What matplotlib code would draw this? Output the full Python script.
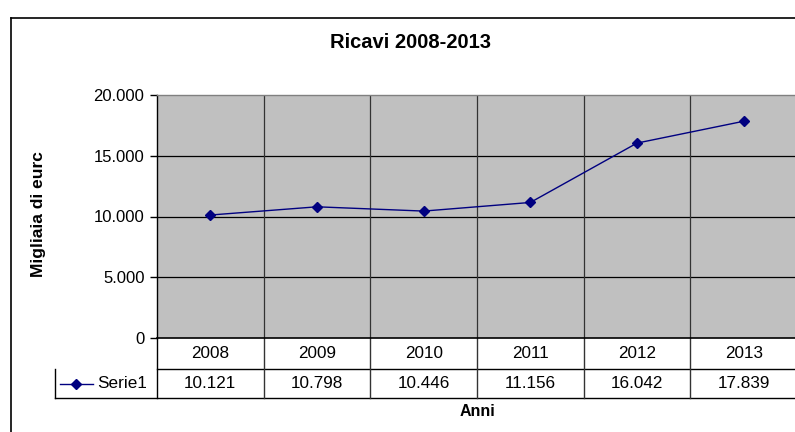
import matplotlib
matplotlib.use("Agg")
import matplotlib.pyplot as plt
from matplotlib.lines import Line2D
import matplotlib.transforms as mtransforms

plt.rcParams['font.family'] = ['Liberation Sans', 'DejaVu Sans']

years = ['2008', '2009', '2010', '2011', '2012', '2013']
values = [10121, 10798, 10446, 11156, 16042, 17839]
value_labels = ['10.121', '10.798', '10.446', '11.156', '16.042', '17.839']
series_name = 'Serie1'
yticks = [0, 5000, 10000, 15000, 20000]
ytick_labels = ['0', '5.000', '10.000', '15.000', '20.000']

W, H = 795, 432
fig = plt.figure(figsize=(W / 100, H / 100), dpi=100)
fig.patch.set_facecolor('white')

# outer chart border (left and top visible)
fig.add_artist(Line2D([11 / W, 11 / W], [-0.1, 1 - 18 / H], transform=fig.transFigure, color='black', lw=1.2))
fig.add_artist(Line2D([11 / W, 1.1], [1 - 18 / H, 1 - 18 / H], transform=fig.transFigure, color='black', lw=1.2))

left, right, top, bottom = 157, 797, 95, 338
ax = fig.add_axes([left / W, 1 - bottom / H, (right - left) / W, (bottom - top) / H])
ax.set_facecolor('#C0C0C0')
ax.set_xlim(-0.5, 5.5)
ax.set_ylim(0, 20000)

x = list(range(len(years)))
ax.plot(x, values, color='#000080', lw=1.0, marker='D', markersize=5, zorder=3)

ax.set_yticks(yticks)
ax.set_yticklabels(ytick_labels, fontsize=12)
ax.tick_params(axis='y', direction='out', length=5, width=1, color='black', pad=4)
ax.set_xticks([])
for yt in yticks[1:-1]:
    ax.axhline(yt, color='black', lw=0.9, zorder=1)
for i in range(1, len(years)):
    ax.axvline(i - 0.5, color='#333333', lw=0.9, zorder=1)
for s in ['top', 'right']:
    ax.spines[s].set_color('#808080')
    ax.spines[s].set_linewidth(1.0)
ax.spines['left'].set_color('black')
ax.spines['bottom'].set_color('black')
ax.spines['left'].set_linewidth(1.0)
ax.spines['bottom'].set_linewidth(1.2)

# data table
trans = mtransforms.blended_transform_factory(ax.transData, ax.transAxes)
ph = bottom - top
r1 = -(369 - bottom) / ph
r2 = -(398 - bottom) / ph
xleg = -0.5 - (left - 55) / ((right - left) / 6)
lkw = dict(transform=trans, color='black', lw=1.0, clip_on=False)
ax.add_line(Line2D([-0.5, 5.6], [r1, r1], **lkw))
ax.add_line(Line2D([xleg, 5.6], [r2, r2], **lkw))
ax.add_line(Line2D([xleg, xleg], [r1, r2], **lkw))
for i in range(len(years) + 1):
    ax.add_line(Line2D([i - 0.5, i - 0.5], [0, r2], transform=trans, color='#333333' if 0 < i < 6 else 'black', lw=1.0, clip_on=False))
for i, (yr, vl) in enumerate(zip(years, value_labels)):
    ax.text(i, (0 + r1) / 2, yr, transform=trans, ha='center', va='center', fontsize=12.3)
    ax.text(i, (r1 + r2) / 2, vl, transform=trans, ha='center', va='center', fontsize=12.3)

# legend key
ymid = (r1 + r2) / 2
kx0 = xleg + 5 / 106.67
kx1 = xleg + 38 / 106.67
ax.add_line(Line2D([kx0, kx1], [ymid, ymid], transform=trans, color='#000080', lw=1.0, clip_on=False))
ax.add_line(Line2D([(kx0 + kx1) / 2], [ymid], transform=trans, color='#000080', marker='D', markersize=5, clip_on=False))
ax.text(kx1 + 4 / 106.67, ymid, series_name, transform=trans, ha='left', va='center', fontsize=12.3)

fig.text(411 / W, 1 - 42 / H, 'Ricavi 2008-2013', ha='center', va='center', fontsize=14.5, fontweight='bold')
fig.text(477 / W, 1 - 412 / H, 'Anni', ha='center', va='center', fontsize=11.5, fontweight='bold')
fig.text(38 / W, 1 - 214 / H, 'Migliaia di eurc', ha='center', va='center', rotation=90, fontsize=12.5, fontweight='bold')

fig.savefig('out.png', dpi=100)
